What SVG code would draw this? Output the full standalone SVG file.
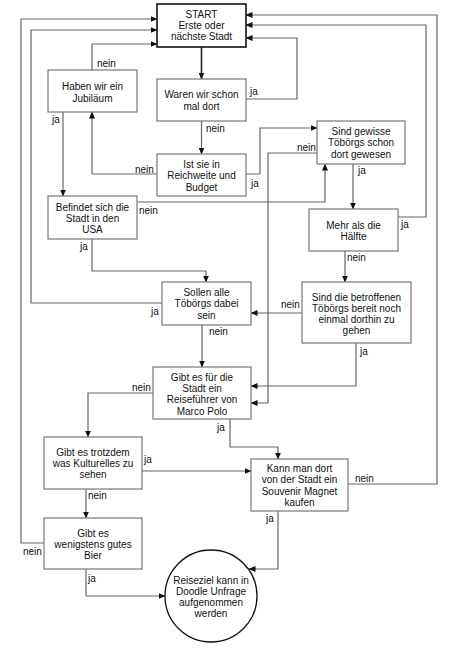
<svg xmlns="http://www.w3.org/2000/svg" width="460" height="650" viewBox="0 0 460 650">
<style>
.box{fill:#fff;stroke:#777;stroke-width:1.2}
.start{fill:#fff;stroke:#111;stroke-width:1.6}
.t{font-family:"Liberation Sans",Arial,sans-serif;font-size:10px;fill:#111;text-anchor:middle}
.l{font-family:"Liberation Sans",Arial,sans-serif;font-size:10px;fill:#111}
.c{fill:none;stroke:#666;stroke-width:1.2;marker-end:url(#ah)}
</style>
<defs>
<marker id="ah" markerWidth="7" markerHeight="6" refX="6.5" refY="3" orient="auto" markerUnits="userSpaceOnUse">
<path d="M0,0 L7,3 L0,6 Z" fill="#111"/>
</marker>
</defs>
<rect width="460" height="650" fill="#fff"/>
<g id="connectors">
<path class="c" d="M201.5,47 V79" style="stroke:#222;stroke-width:1.6"/>
<path class="c" d="M246,99 H297 V38 H246"/>
<path class="c" d="M201.5,121 V154"/>
<path class="c" d="M157,174 H92 V112"/>
<path class="c" d="M246,174 H260 V128 H317"/>
<path class="c" d="M92,70 V44 H157"/>
<path class="c" d="M63,112 V196"/>
<path class="c" d="M137,202 H325 V164"/>
<path class="c" d="M92,239 V271 H206 V282"/>
<path class="c" d="M317,153 H268 V403 H251"/>
<path class="c" d="M353,164 V209"/>
<path class="c" d="M398,217 H426 V25 H246"/>
<path class="c" d="M345,251 V282"/>
<path class="c" d="M302,313 H251"/>
<path class="c" d="M356,343 V386 H251"/>
<path class="c" d="M162,303 H31 V30 H157"/>
<path class="c" d="M202,325 V367"/>
<path class="c" d="M153,393 H88 V437"/>
<path class="c" d="M230,419 V447 H278 V459"/>
<path class="c" d="M142,471 H251"/>
<path class="c" d="M86,489 V518"/>
<path class="c" d="M44,543 H21 V19 H157"/>
<path class="c" d="M86,569 V596 H165"/>
<path class="c" d="M348,484 H437 V15 H246"/>
<path class="c" d="M278,511 V569 H249"/>
<text class="l" x="250" y="95">ja</text>
<text class="l" x="206" y="131.5">nein</text>
<text class="l" x="135" y="172.5">nein</text>
<text class="l" x="251" y="186.5">ja</text>
<text class="l" x="97" y="66.5">nein</text>
<text class="l" x="52" y="122.5">ja</text>
<text class="l" x="139" y="213.5">nein</text>
<text class="l" x="80" y="249.5">ja</text>
<text class="l" x="297" y="150.5">nein</text>
<text class="l" x="358" y="173.5">ja</text>
<text class="l" x="401" y="227.5">ja</text>
<text class="l" x="347" y="260.5">nein</text>
<text class="l" x="281" y="307.5">nein</text>
<text class="l" x="360" y="354.5">ja</text>
<text class="l" x="151" y="314.5">ja</text>
<text class="l" x="209" y="334.5">nein</text>
<text class="l" x="132" y="390.5">nein</text>
<text class="l" x="217" y="430.5">ja</text>
<text class="l" x="144" y="462.5">ja</text>
<text class="l" x="88" y="498.5">nein</text>
<text class="l" x="23" y="554.5">nein</text>
<text class="l" x="88" y="581.5">ja</text>
<text class="l" x="355" y="481.5">nein</text>
<text class="l" x="266" y="521.5">ja</text>
</g>
<g id="start">
<rect class="start" x="157" y="4" width="89" height="43"/>
<text class="t" x="201.5" y="17.5">START</text>
<text class="t" x="201.5" y="28.5">Erste oder</text>
<text class="t" x="201.5" y="39.5">nächste Stadt</text>
</g>
<g id="waren">
<rect class="box" x="157" y="79" width="89" height="42"/>
<text class="t" x="201.5" y="97.5">Waren wir schon</text>
<text class="t" x="201.5" y="109.5">mal dort</text>
</g>
<g id="ist">
<rect class="box" x="157" y="154" width="89" height="42"/>
<text class="t" x="201.5" y="167.5">Ist sie in</text>
<text class="t" x="201.5" y="179">Reichweite und</text>
<text class="t" x="201.5" y="190.5">Budget</text>
</g>
<g id="jubilaeum">
<rect class="box" x="48" y="70" width="89" height="42"/>
<text class="t" x="92.5" y="89.5">Haben wir ein</text>
<text class="t" x="92.5" y="101.5">Jubiläum</text>
</g>
<g id="usa">
<rect class="box" x="48" y="196" width="89" height="43"/>
<text class="t" x="92.5" y="210.5">Befindet sich die</text>
<text class="t" x="92.5" y="221.5">Stadt in den</text>
<text class="t" x="92.5" y="232.5">USA</text>
</g>
<g id="sind">
<rect class="box" x="317" y="121" width="88" height="43"/>
<text class="t" x="361" y="134.5">Sind gewisse</text>
<text class="t" x="361" y="146">Töbörgs schon</text>
<text class="t" x="361" y="157.5">dort gewesen</text>
</g>
<g id="mehr">
<rect class="box" x="309" y="209" width="89" height="42"/>
<text class="t" x="353.5" y="228.5">Mehr als die</text>
<text class="t" x="353.5" y="239.5">Hälfte</text>
</g>
<g id="betroffen">
<rect class="box" x="302" y="282" width="109" height="61"/>
<text class="t" x="356.5" y="300.5">Sind die betroffenen</text>
<text class="t" x="356.5" y="311.5">Töbörgs bereit noch</text>
<text class="t" x="356.5" y="322.5">einmal dorthin zu</text>
<text class="t" x="356.5" y="333.5">gehen</text>
</g>
<g id="sollen">
<rect class="box" x="162" y="282" width="89" height="43"/>
<text class="t" x="206.5" y="295.5">Sollen alle</text>
<text class="t" x="206.5" y="307">Töbörgs dabei</text>
<text class="t" x="206.5" y="318.5">sein</text>
</g>
<g id="marco">
<rect class="box" x="153" y="367" width="98" height="52"/>
<text class="t" x="202" y="380.5">Gibt es für die</text>
<text class="t" x="202" y="391.5">Stadt ein</text>
<text class="t" x="202" y="403">Reiseführer von</text>
<text class="t" x="202" y="414.5">Marco Polo</text>
</g>
<g id="kulturelles">
<rect class="box" x="44" y="437" width="98" height="52"/>
<text class="t" x="93" y="455.5">Gibt es trotzdem</text>
<text class="t" x="93" y="466.5">was Kulturelles zu</text>
<text class="t" x="93" y="477.5">sehen</text>
</g>
<g id="bier">
<rect class="box" x="44" y="518" width="98" height="51"/>
<text class="t" x="93" y="536.5">Gibt es</text>
<text class="t" x="93" y="547.5">wenigstens gutes</text>
<text class="t" x="93" y="559">Bier</text>
</g>
<g id="magnet">
<rect class="box" x="251" y="459" width="97" height="52"/>
<text class="t" x="299.5" y="471.5">Kann man dort</text>
<text class="t" x="299.5" y="482.5">von der Stadt ein</text>
<text class="t" x="299.5" y="494.5">Souvenir Magnet</text>
<text class="t" x="299.5" y="506">kaufen</text>
</g>
<g id="ziel">
<circle cx="211" cy="596" r="46" fill="#fff" stroke="#111" stroke-width="1.3"/>
<text class="t" x="211" y="583.5">Reiseziel kann in</text>
<text class="t" x="211" y="594.5">Doodle Unfrage</text>
<text class="t" x="211" y="605.5">aufgenommen</text>
<text class="t" x="211" y="616.5">werden</text>
</g>
</svg>
